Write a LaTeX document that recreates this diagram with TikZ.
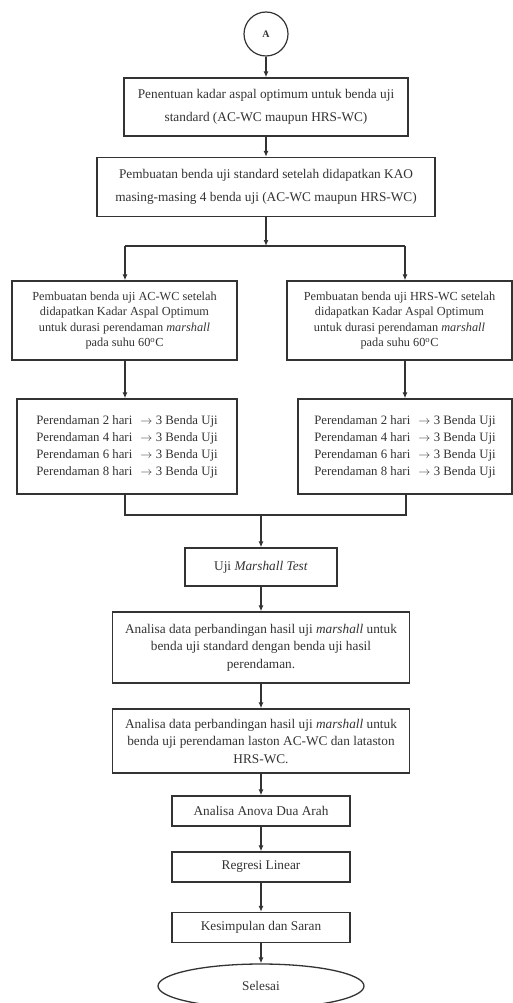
\documentclass[tikz,border=0pt]{standalone}
\usepackage{fontspec}
\setmainfont{Liberation Serif}
\usetikzlibrary{arrows.meta,shapes.geometric}
\definecolor{ink}{HTML}{333333}
\newcommand{\rendam}[1]{Perendaman #1 hari\hspace{8pt}$\rightarrow$\hspace{3.5pt}3 Benda Uji}
\begin{document}
\begin{tikzpicture}[x=1pt,y=-1pt,
  every node/.style={text=ink},
  boxnode/.style={draw=ink,line width=1.3pt,align=center,inner sep=0pt},
  mainfont/.style={font=\fontsize{13.3}{17.5}\selectfont},
  sidefont/.style={font=\fontsize{12.3}{15.5}\selectfont},
  arr/.style={draw=ink,line width=1.2pt,-{Latex[length=6pt,width=5pt]}},
  ln/.style={draw=ink,line width=1.2pt}]
\useasboundingbox (0,0) rectangle (513,1003);
\fill[white] (0,0) rectangle (513,1003);

\node[draw=ink,line width=1.2pt,circle,minimum size=44pt,inner sep=0pt,font=\fontsize{10}{12}\selectfont\bfseries] (A) at (266,34) {A};

\node[boxnode,minimum width=284pt,minimum height=58pt,font=\fontsize{13.3}{23}\selectfont] (b1) at (266,107)
  {Penentuan kadar aspal optimum untuk benda uji\\standard (AC-WC maupun HRS-WC)};
\node[boxnode,minimum width=338pt,minimum height=59pt,font=\fontsize{13.3}{23}\selectfont] (b2) at (266,187)
  {Pembuatan benda uji standard setelah didapatkan KAO\\masing-masing 4 benda uji (AC-WC maupun HRS-WC)};

\coordinate (j1) at (266,246);
\coordinate (jl) at (125,246);
\coordinate (jr) at (405,246);

\node[boxnode,sidefont,minimum width=225pt,minimum height=79pt] (l1) at (124.5,320.5)
  {Pembuatan benda uji AC-WC setelah\\didapatkan Kadar Aspal Optimum\\untuk durasi perendaman \textit{marshall}\\pada suhu 60\textsuperscript{o}C};
\node[boxnode,sidefont,minimum width=225pt,minimum height=79pt] (r1) at (399.5,320.5)
  {Pembuatan benda uji HRS-WC setelah\\didapatkan Kadar Aspal Optimum\\untuk durasi perendaman \textit{marshall}\\pada suhu 60\textsuperscript{o}C};

\node[boxnode,minimum width=220pt,minimum height=95pt,align=left,font=\fontsize{12.8}{17}\selectfont] (l2) at (127,446.5)
  {\rendam{2}\\\rendam{4}\\\rendam{6}\\\rendam{8}};
\node[boxnode,minimum width=214pt,minimum height=95pt,align=left,font=\fontsize{12.8}{17}\selectfont] (r2) at (405,446.5)
  {\rendam{2}\\\rendam{4}\\\rendam{6}\\\rendam{8}};

\coordinate (kl) at (125,515);
\coordinate (kr) at (406,515);
\coordinate (k1) at (261,515);

\node[boxnode,mainfont,minimum width=152pt,minimum height=38pt] (m) at (261,567) {Uji \textit{Marshall Test}};
\node[boxnode,mainfont,minimum width=297pt,minimum height=71pt] (a1) at (261,647.5)
  {Analisa data perbandingan hasil uji \textit{marshall} untuk\\benda uji standard dengan benda uji hasil\\perendaman.};
\node[boxnode,mainfont,minimum width=297pt,minimum height=64pt] (a2) at (261,741)
  {Analisa data perbandingan hasil uji \textit{marshall} untuk\\benda uji perendaman laston AC-WC dan lataston\\HRS-WC.};
\node[boxnode,mainfont,minimum width=178pt,minimum height=30pt] (an) at (261,811) {Analisa Anova Dua Arah};
\node[boxnode,mainfont,minimum width=178pt,minimum height=30pt] (rg) at (261,867) {Regresi Linear};
\node[boxnode,mainfont,minimum width=178pt,minimum height=30pt] (ks) at (261,927.5) {Kesimpulan dan Saran};
\node[draw=ink,line width=1.3pt,ellipse,minimum width=206pt,minimum height=44pt,inner sep=0pt,mainfont] (sel) at (261,986) {Selesai};

\draw[arr] (A) -- (b1);
\draw[arr] (b1) -- (b2);
\draw[arr] (b2) -- (j1);
\draw[ln] (jl) -- (jr);
\draw[arr] (jl) -- (jl |- l1.north);
\draw[arr] (jr) -- (jr |- r1.north);
\draw[arr] (l1.south -| jl) -- (jl |- l2.north);
\draw[arr] (r1.south -| jr) -- (jr |- r2.north);
\draw[ln] (l2.south -| kl) -- (kl) -- (kr) -- (r2.south -| kr);
\draw[arr] (k1) -- (m);
\draw[arr] (m) -- (a1);
\draw[arr] (a1) -- (a2);
\draw[arr] (a2) -- (an);
\draw[arr] (an) -- (rg);
\draw[arr] (rg) -- (ks);
\draw[arr] (ks) -- (sel);
\end{tikzpicture}
\end{document}
